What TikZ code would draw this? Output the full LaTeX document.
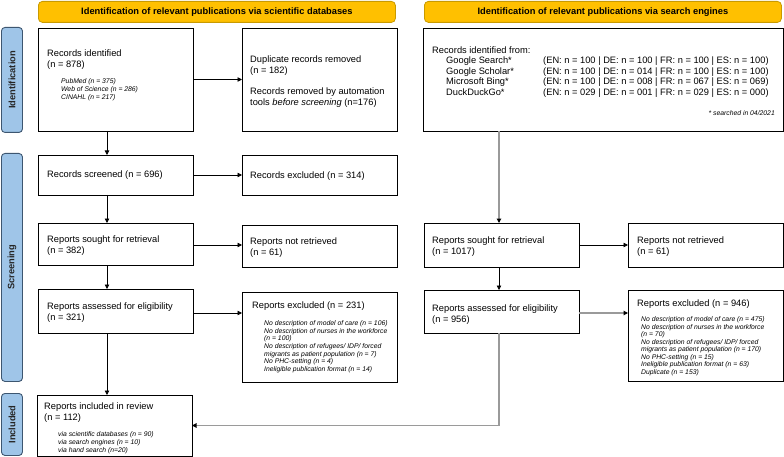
\documentclass[tikz,border=0pt]{standalone}
\usepackage{fontspec}
\setmainfont{Liberation Sans}
\usetikzlibrary{arrows.meta}
\definecolor{hdr}{HTML}{FFC000}
\definecolor{hdrline}{HTML}{C99A00}
\definecolor{side}{HTML}{9FC5E8}
\definecolor{sideline}{HTML}{3D5670}
\definecolor{conn}{HTML}{9A9A9A}
\begin{document}
\begin{tikzpicture}[x=1pt,y=-1pt,
  box/.style={draw=black, line width=0.9pt, anchor=north west, inner sep=0pt, outer sep=0pt},
  header/.style={draw=hdrline, fill=hdr, line width=0.8pt, rounded corners=4pt, anchor=north west, inner sep=0pt, font=\bfseries\fontsize{9.3}{11}\selectfont},
  sidebar/.style={draw=sideline, fill=side, line width=0.9pt, rounded corners=3.5pt, anchor=north west, inner sep=0pt},
  sidelabel/.style={rotate=90, inner sep=0pt, font=\bfseries\fontsize{9.3}{11}\selectfont, text=black!85},
  main/.style={anchor=north west, inner sep=0pt, align=left, font=\fontsize{9.3}{10.8}\selectfont},
  small/.style={anchor=north west, inner sep=0pt, align=left, font=\fontsize{6.8}{7.7}\selectfont\itshape},
  arr/.style={-{Triangle[length=4.5pt,width=4.5pt,color=black]}, line width=0.8pt, draw=black},
  garr/.style={arr, draw=conn, line width=1.3pt}
]
\useasboundingbox (0,0) rectangle (784,457);

% headers
\node[header, minimum width=357pt, minimum height=21pt] (h1) at (38,1) {Identification of relevant publications via scientific databases};
\node[header, minimum width=357pt, minimum height=21pt] (h2) at (424,1) {Identification of relevant publications via search engines};

% side bars
\node[sidebar, minimum width=21pt, minimum height=105pt] (sb1) at (1,27) {};
\node[sidebar, minimum width=21pt, minimum height=228pt] (sb2) at (1,153) {};
\node[sidebar, minimum width=21pt, minimum height=62pt] (sb3) at (1,393) {};
\node[sidelabel] (l1) at (sb1.center) {Identification};
\node[sidelabel] (l2) at (sb2.center) {Screening};
\node[sidelabel] (l3) at (sb3.center) {Included};

% left column boxes
\node[box, minimum width=155pt, minimum height=103pt] (rid) at (38,28) {};
\node[box, minimum width=155pt, minimum height=103pt] (dup) at (242,28) {};
\node[box, minimum width=155pt, minimum height=40pt] (scr) at (38,155) {};
\node[box, minimum width=155pt, minimum height=40pt] (rex) at (242,155) {};
\node[box, minimum width=155pt, minimum height=42pt] (sgt) at (38,223) {};
\node[box, minimum width=155pt, minimum height=42pt] (nrt) at (242,225) {};
\node[box, minimum width=155pt, minimum height=44pt] (ass) at (38,289) {};
\node[box, minimum width=155pt, minimum height=90pt] (exl) at (242,292) {};
\node[box, minimum width=155pt, minimum height=61pt] (inc) at (37,395) {};

% right column boxes
\node[box, minimum width=360pt, minimum height=103pt] (rid2) at (423,28) {};
\node[box, minimum width=155pt, minimum height=44pt] (sgt2) at (424,223) {};
\node[box, minimum width=155pt, minimum height=44pt] (nrt2) at (628,223) {};
\node[box, minimum width=155pt, minimum height=43pt] (ass2) at (424,290) {};
\node[box, minimum width=155pt, minimum height=91pt] (exl2) at (628,290) {};

% texts left
\node[main] (t1) at (47,49.6) {Records identified\\(n = 878)};
\node[small] (t1s) at (61,78.5) {PubMed (n = 375)\\[0.4pt]Web of Science (n = 286)\\[0.4pt]CINAHL (n = 217)};
\node[main] (t2) at (250,55.6) {Duplicate records removed\\(n = 182)\\[10.3pt]Records removed by automation\\tools \textit{before screening} (n=176)};
\node[main, anchor=west] (t3) at (47,175) {Records screened (n = 696)};
\node[main, anchor=west] (t4) at (250,176) {Records excluded (n = 314)};
\node[main] (t5) at (47,235.6) {Reports sought for retrieval\\(n = 382)};
\node[main] (t6) at (250,237.6) {Reports not retrieved\\(n = 61)};
\node[main] (t7) at (47,302.6) {Reports assessed for eligibility\\(n = 321)};
\node[main] (t8) at (252,301.6) {Reports excluded (n = 231)};
\node[small] (t8s) at (264,320.2) {No description of model of care (n = 106)\\No description of nurses in the workforce\\(n = 100)\\No description of refugees/ IDP/ forced\\migrants as patient population (n = 7)\\No PHC-setting (n = 4)\\Ineligible publication format (n = 14)};
\node[main] (t9) at (44,402.6) {Reports included in review\\(n = 112)};
\node[small] (t9s) at (58,431.5) {via scientific databases (n = 90)\\via search engines (n = 10)\\via hand search (n=20)};

% texts right
\node[main] (r1) at (432,46.6) {Records identified from:};
\node[main, font=\fontsize{9.3}{10.6}\selectfont] (r1a) at (446,56.6) {Google Search*\\Google Scholar*\\Microsoft Bing*\\DuckDuckGo*};
\node[main, font=\fontsize{9.3}{10.6}\selectfont] (r1b) at (543,56.6) {(EN: n = 100 | DE: n = 100 | FR: n = 100 | ES: n = 100)\\(EN: n = 100 | DE: n = 014 | FR: n = 100 | ES: n = 100)\\(EN: n = 100 | DE: n = 008 | FR: n = 067 | ES: n = 069)\\(EN: n = 029 | DE: n = 001 | FR: n = 029 | ES: n = 000)};
\node[small, anchor=east] (r1c) at (775,113) {* searched in 04/2021};
\node[main] (r2) at (432,236.6) {Reports sought for retrieval\\(n = 1017)};
\node[main] (r3) at (637,236.6) {Reports not retrieved\\(n = 61)};
\node[main] (r4) at (432,304.6) {Reports assessed for eligibility\\(n = 956)};
\node[main] (r5) at (637,299.6) {Reports excluded (n = 946)};
\node[small, font=\fontsize{6.8}{7.5}\selectfont\itshape] (r5s) at (641,316.8) {No description of model of care (n = 475)\\No description of nurses in the workforce\\(n = 70)\\No description of refugees/ IDP/ forced\\migrants as patient population (n = 170)\\No PHC-setting (n = 15)\\Ineligible publication format (n = 63)\\Duplicate (n = 153)};

% column coordinates
\coordinate (lc) at (107,0);
\coordinate (rc) at (499,0);
\coordinate (ya) at (0,245);
\coordinate (yb) at (0,313);

% connectors left
\draw[arr] (rid.south -| lc) -- (scr.north -| lc);
\draw[arr] (scr.south -| lc) -- (sgt.north -| lc);
\draw[arr] (sgt.south -| lc) -- (ass.north -| lc);
\draw[arr] (ass.south -| lc) -- (inc.north -| lc);
\draw[arr] (rid.east) -- (rid.east -| dup.west);
\draw[arr] (scr.east) -- (scr.east -| rex.west);
\draw[arr] (sgt.east |- ya) -- (nrt.west |- ya);
\draw[arr] (ass.east |- yb) -- (exl.west |- yb);

% connectors right
\draw[garr] (rid2.south -| rc) -- (sgt2.north -| rc);
\draw[arr] (sgt2.south -| rc) -- (ass2.north -| rc);
\draw[arr] (sgt2.east) -- (sgt2.east -| nrt2.west);
\draw[garr] (ass2.east |- yb) -- (exl2.west |- yb);
\draw[garr] (ass2.south -| rc) |- (inc.east);
\end{tikzpicture}
\end{document}
